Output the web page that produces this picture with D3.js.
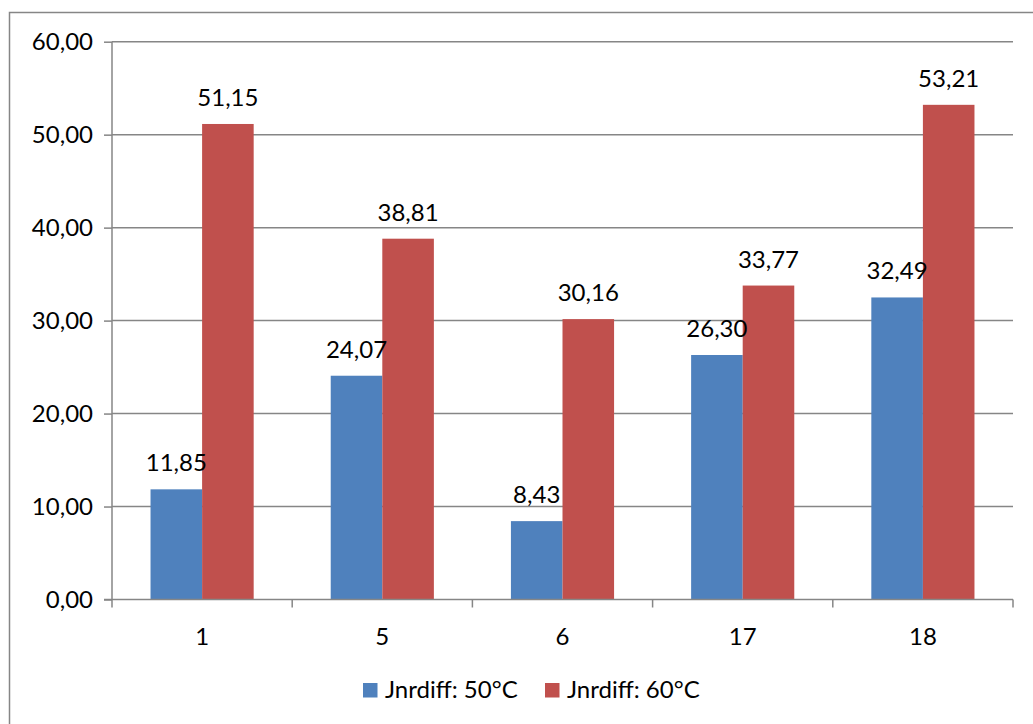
<!DOCTYPE html>
<html><head><meta charset="utf-8">
<script src="https://cdn.jsdelivr.net/npm/d3@7"></script>
<style>body{margin:0;background:#fff}svg{display:block}</style>
</head><body>
<svg id="c" width="1033" height="724"></svg>
<script>
const categories = ["1","5","6","17","18"];
const seriesNames = ["Jnrdiff: 50°C","Jnrdiff: 60°C"];
const values50 = [11.85, 24.07, 8.43, 26.30, 32.49];
const values60 = [51.15, 38.81, 30.16, 33.77, 53.21];
const yTicks = [0,10,20,30,40,50,60];
const colors = ["#4F81BD","#C0504D"];

const svg = d3.select("#c");
const font = "Lato, 'Open Sans', sans-serif";
const fs = 24;
const grid = "#868686";

svg.append("rect").attr("x",9.5).attr("y",12.5).attr("width",1100).attr("height",800)
  .attr("fill","none").attr("stroke","#868686").attr("stroke-width",1.5);

const L=112, R=1013, T=41.7, B=599.5;
const x = d3.scaleBand().domain(categories).range([L,R]).paddingInner(0).paddingOuter(0);
const y = d3.scaleLinear().domain([0,60]).range([B,T]);
const inner = d3.scaleBand().domain([0,1]).range([0,x.bandwidth()]).paddingOuter(0.747).paddingInner(0);

// gridlines
svg.append("g").selectAll("line").data(yTicks.filter(d=>d>0)).join("line")
  .attr("x1",L).attr("x2",R).attr("y1",d=>y(d)).attr("y2",d=>y(d))
  .attr("stroke",grid).attr("stroke-width",1.5);

const fmt = v => d3.format(".2f")(v).replace(".",",");

// y axis
const ya = svg.append("g").attr("transform",`translate(${L},0)`)
  .call(d3.axisLeft(y).tickValues(yTicks).tickSize(8).tickFormat(fmt));
ya.select(".domain").attr("stroke",grid).attr("stroke-width",1.5).attr("d",`M0,${T}V${B}`);
ya.selectAll(".tick line").attr("stroke",grid).attr("stroke-width",1.5);
ya.selectAll(".tick text").attr("font-family",font).attr("font-size",fs).attr("fill","#000").attr("x",-19);

// bars
const series = [values50, values60];
series.forEach((vals,si)=>{
  svg.append("g").selectAll("rect").data(vals).join("rect")
    .attr("x",(d,i)=>x(categories[i])+inner(si))
    .attr("width",inner.bandwidth())
    .attr("y",d=>y(d)).attr("height",d=>B-y(d))
    .attr("fill",colors[si]);
});
// value labels (drawn above all bars)
series.forEach((vals,si)=>{
  svg.append("g").selectAll("text").data(vals).join("text")
    .attr("x",(d,i)=>x(categories[i])+inner(si)+inner.bandwidth()/2)
    .attr("y",d=>y(d)-18)
    .attr("text-anchor","middle").attr("font-family",font).attr("font-size",fs).attr("fill","#000")
    .text(d=>fmt(d));
});

// x axis
const xa = svg.append("g").attr("transform",`translate(0,${B})`)
  .call(d3.axisBottom(x).tickSize(0).tickPadding(28));
xa.select(".domain").attr("stroke",grid).attr("stroke-width",1.5).attr("d",`M${L-8},0H${R}`);
xa.selectAll(".tick text").attr("font-family",font).attr("font-size",fs).attr("fill","#000").attr("dy","0.71em");
svg.append("g").selectAll("line").data(d3.range(categories.length+1)).join("line")
  .attr("x1",i=>L+i*x.bandwidth()).attr("x2",i=>L+i*x.bandwidth())
  .attr("y1",B).attr("y2",B+8).attr("stroke",grid).attr("stroke-width",1.5);

// legend
const lg = svg.append("g");
const lx = [363, 545];
seriesNames.forEach((n,i)=>{
  lg.append("rect").attr("x",lx[i]).attr("y",683).attr("width",14.5).attr("height",14.5).attr("fill",colors[i]);
  lg.append("text").attr("x",lx[i]+22).attr("y",690).attr("dy","0.35em")
    .attr("font-family",font).attr("font-size",fs).attr("fill","#000").text(n);
});
</script>
</body></html>
